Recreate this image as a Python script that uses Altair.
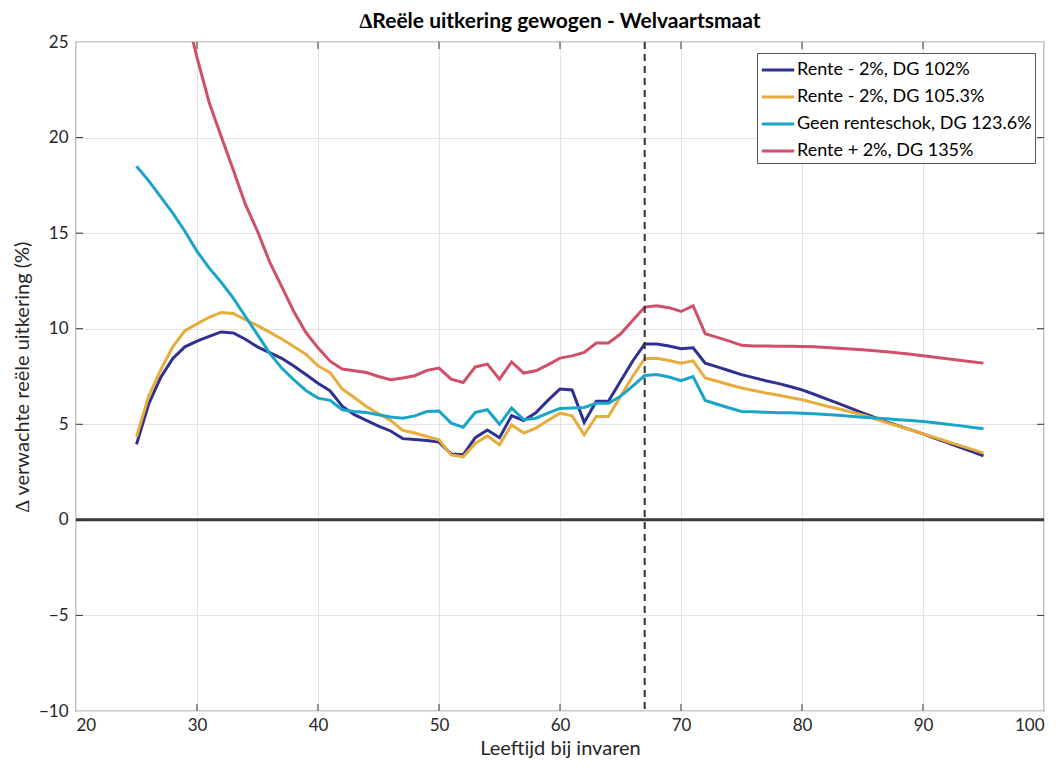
import pandas as pd
import altair as alt

ages = list(range(25, 96))

navy = [3.95, 6.05, 7.45, 8.45, 9.05, 9.35, 9.6, 9.83, 9.78, 9.45,
        9.05, 8.75, 8.45, 8.05, 7.6, 7.15, 6.75, 5.95, 5.5, 5.2,
        4.9, 4.65, 4.25, 4.2, 4.15, 4.07, 3.45, 3.4, 4.3, 4.7,
        4.3, 5.45, 5.2, 5.6, 6.25, 6.85, 6.8, 5.1, 6.2, 6.2,
        7.25, 8.3, 9.2, 9.2, 9.1, 8.95, 9.0, 8.2, 8.0, 7.8,
        7.6, 7.44, 7.28, 7.14, 6.98, 6.8, 6.57, 6.33, 6.09, 5.85,
        5.6, 5.36, 5.12, 4.92, 4.71, 4.5, 4.27, 4.04, 3.81, 3.58, 3.35]

yellow = [4.35, 6.45, 7.85, 9.05, 9.9, 10.25, 10.6, 10.85, 10.8, 10.47,
          10.16, 9.82, 9.46, 9.07, 8.67, 8.06, 7.7, 6.85, 6.4, 5.93,
          5.55, 5.2, 4.68, 4.54, 4.36, 4.19, 3.4, 3.3, 4.0, 4.4,
          3.93, 4.97, 4.54, 4.8, 5.2, 5.58, 5.44, 4.45, 5.41, 5.41,
          6.46, 7.5, 8.43, 8.45, 8.34, 8.2, 8.32, 7.42, 7.25, 7.07,
          6.9, 6.77, 6.64, 6.53, 6.4, 6.28, 6.12, 5.96, 5.81, 5.65,
          5.49, 5.29, 5.09, 4.9, 4.7, 4.5, 4.3, 4.1, 3.9, 3.7, 3.49]

cyan = [18.5, 17.75, 16.9, 16.05, 15.1, 14.05, 13.18, 12.43, 11.6, 10.64,
        9.69, 8.72, 7.94, 7.33, 6.77, 6.37, 6.25, 5.76, 5.67, 5.62,
        5.5, 5.38, 5.32, 5.44, 5.67, 5.7, 5.06, 4.85, 5.62, 5.76,
        5.0, 5.85, 5.24, 5.32, 5.58, 5.83, 5.85, 5.88, 6.1, 6.1,
        6.46, 7.0, 7.55, 7.6, 7.47, 7.28, 7.5, 6.25, 6.05, 5.85,
        5.67, 5.65, 5.63, 5.61, 5.6, 5.58, 5.55, 5.51, 5.47, 5.42,
        5.37, 5.33, 5.29, 5.24, 5.2, 5.15, 5.08, 5.0, 4.93, 4.85, 4.77]

red_ages = list(range(29, 96))
red = [26.8, 24.2, 21.85, 20.05, 18.3, 16.5, 15.1, 13.5, 12.2, 10.9,
       9.8, 9.0, 8.3, 7.89, 7.8, 7.71, 7.5, 7.33, 7.42, 7.54,
       7.82, 7.94, 7.36, 7.19, 8.0, 8.15, 7.36, 8.26, 7.68, 7.8,
       8.11, 8.46, 8.58, 8.76, 9.25, 9.25, 9.72, 10.43, 11.13, 11.2,
       11.1, 10.9, 11.2, 9.74, 9.55, 9.35, 9.13, 9.1, 9.09, 9.08,
       9.08, 9.07, 9.05, 9.02, 8.98, 8.94, 8.9, 8.85, 8.79, 8.73,
       8.66, 8.59, 8.51, 8.43, 8.35, 8.27, 8.2]

labels = ["Rente - 2%, DG 102%", "Rente - 2%, DG 105.3%",
          "Geen renteschok, DG 123.6%", "Rente + 2%, DG 135%"]
colors = ["#2e3092", "#e6ac3c", "#18a5c9", "#d04f69"]

x_ticks = list(range(20, 101, 10))
y_ticks = list(range(-10, 26, 5))
retire_age = 67

W, H = 968, 669
TICK = 7
FONT = "Lato"

df = pd.concat([
    pd.DataFrame({"age": ages, "val": navy, "serie": labels[0]}),
    pd.DataFrame({"age": ages, "val": yellow, "serie": labels[1]}),
    pd.DataFrame({"age": ages, "val": cyan, "serie": labels[2]}),
    pd.DataFrame({"age": red_ages, "val": red, "serie": labels[3]}),
], ignore_index=True)
df["order"] = df["serie"].map({s: i for i, s in enumerate(labels)})

xs = alt.Scale(domain=[20, 100], nice=False)
ys = alt.Scale(domain=[-10, 25], nice=False)

lines = alt.Chart(df).mark_line(strokeWidth=3, clip=True).encode(
    x=alt.X("age:Q", scale=xs, title="Leeftijd bij invaren",
            axis=alt.Axis(values=x_ticks, grid=True, gridColor="#e3e3e3", ticks=False,
                          domain=False, labelPadding=6, titlePadding=5)),
    y=alt.Y("val:Q", scale=ys, title="∆ verwachte reële uitkering (%)",
            axis=alt.Axis(values=y_ticks, grid=True, gridColor="#e3e3e3", ticks=False,
                          domain=False, labelPadding=8, titlePadding=6)),
    color=alt.Color("serie:N", scale=alt.Scale(domain=labels, range=colors),
                    legend=alt.Legend(title=None, orient="none", legendX=681, legendY=11,
                                      symbolType="M-1.3,0H1.3", symbolStrokeWidth=3,
                                      symbolSize=620, labelFontSize=18, labelFont=FONT,
                                      labelColor="#000", labelLimit=400, strokeColor="#555",
                                      fillColor="white", padding=3, rowPadding=4,
                                      labelOffset=5, symbolOffset=4)),
    order="order:O",
    detail="serie:N",
)

zero = alt.Chart(pd.DataFrame({"y": [0]})).mark_rule(color="#3a3a3a", strokeWidth=3).encode(
    y=alt.Y("y:Q", scale=ys))

vline = alt.Chart(pd.DataFrame({"x": [retire_age]})).mark_rule(
    color="#333", strokeWidth=2, strokeDash=[7, 5]).encode(x=alt.X("x:Q", scale=xs))

xt = pd.DataFrame({"t": x_ticks[1:-1]})
yt = pd.DataFrame({"t": y_ticks[1:-1]})
tick_style = dict(color="#333", strokeWidth=1)
bottom = alt.Chart(xt).mark_rule(**tick_style).encode(
    x=alt.X("t:Q", scale=xs), y=alt.value(H), y2=alt.value(H - TICK))
top = alt.Chart(xt).mark_rule(**tick_style).encode(
    x=alt.X("t:Q", scale=xs), y=alt.value(0), y2=alt.value(TICK))
left = alt.Chart(yt).mark_rule(**tick_style).encode(
    y=alt.Y("t:Q", scale=ys), x=alt.value(0), x2=alt.value(TICK))
right = alt.Chart(yt).mark_rule(**tick_style).encode(
    y=alt.Y("t:Q", scale=ys), x=alt.value(W), x2=alt.value(W - TICK))

chart = (
    alt.layer(zero, lines, vline, bottom, top, left, right)
    .properties(
        width=W, height=H,
        title=alt.TitleParams("∆Reële uitkering gewogen - Welvaartsmaat", fontSize=21,
                              font=FONT, fontWeight="bold", color="#000", offset=1),
        autosize=alt.AutoSizeParams(type="none"),
        padding={"left": 68, "top": 34, "right": 9, "bottom": 50},
    )
    .configure_view(stroke="#333", strokeWidth=1.2)
    .configure_axis(labelFont=FONT, titleFont=FONT, labelFontSize=17, titleFontSize=20,
                    labelColor="#262626", titleColor="#262626", titleFontWeight="normal")
)

chart.save("out.html", embed_options={"renderer": "svg", "actions": False})
